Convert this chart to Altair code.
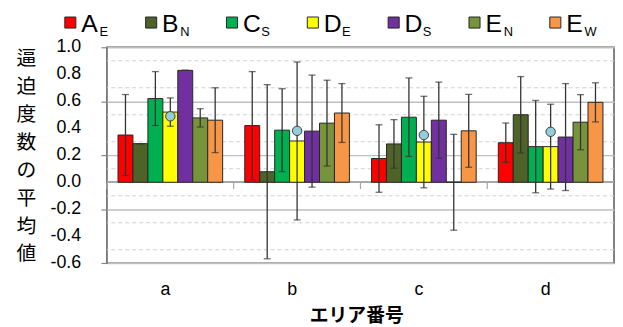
import altair as alt
import pandas as pd

groups = ["a", "b", "c", "d"]
series = ["A_E", "B_N", "C_S", "D_E", "D_S", "E_N", "E_W"]
colors = ["#ff0000", "#4f6228", "#00b050", "#ffff00", "#7030a0", "#77933c", "#f79646"]

# mean values per series, in group order a, b, c, d
mean_AE = [0.35, 0.42, 0.176, 0.293]
mean_BN = [0.286, 0.078, 0.284, 0.50]
mean_CS = [0.62, 0.386, 0.482, 0.264]
mean_DE = [0.52, 0.306, 0.298, 0.264]
mean_DS = [0.829, 0.379, 0.46, 0.335]
mean_EN = [0.477, 0.438, 0.0, 0.445]
mean_EW = [0.46, 0.513, 0.381, 0.592]

# error bar half-widths
err_AE = [0.30, 0.40, 0.25, 0.146]
err_BN = [0.0, 0.645, 0.18, 0.283]
err_CS = [0.20, 0.307, 0.291, 0.342]
err_DE = [0.105, 0.585, 0.339, 0.314]
err_DS = [0.0, 0.415, 0.282, 0.396]
err_EN = [0.068, 0.318, 0.355, 0.204]
err_EW = [0.24, 0.218, 0.27, 0.145]

# circle markers (on D_E bars)
circle_vals = [0.489, 0.381, 0.35, 0.374]

major_ticks = [-0.6, -0.4, -0.2, 0.0, 0.2, 0.4, 0.6, 0.8, 1.0]
minor_lines = [-0.5, -0.3, -0.1, 0.1, 0.3, 0.5, 0.7, 0.9]
y_title = list("逼迫度数の平均値")
x_title = "エリア番号"

means = [mean_AE, mean_BN, mean_CS, mean_DE, mean_DS, mean_EN, mean_EW]
errs = [err_AE, err_BN, err_CS, err_DE, err_DS, err_EN, err_EW]

rows = []
for s, mv, ev in zip(series, means, errs):
    for g, m, e in zip(groups, mv, ev):
        rows.append({"group": g, "series": s, "mean": m, "lo": m - e, "hi": m + e})
df = pd.DataFrame(rows)

df_circ = pd.DataFrame({"group": groups, "series": ["D_E"] * 4, "v": circle_vals})
df_minor = pd.DataFrame({"v": minor_lines})
df_major = pd.DataFrame({"v": major_ticks})
df_grp = pd.DataFrame({"group": groups})
df_leg = pd.DataFrame({
    "series": series,
    "main": [s.split("_")[0] for s in series],
    "sub": [s.split("_")[1] for s in series],
    "idx": list(range(len(series))),
})

color_scale = alt.Scale(domain=series, range=colors)
yscale = alt.Scale(domain=[-0.6, 1.0], nice=False, zero=False)

x_enc = alt.X(
    "group:N",
    scale=alt.Scale(domain=groups, paddingInner=0, paddingOuter=0),
    axis=alt.Axis(
        title=x_title, labelAngle=0, ticks=False, tickSize=0, domain=False, grid=False,
        labelPadding=32, labelBaseline="alphabetic", labelFontSize=18,
        labelFont="Liberation Sans", labelColor="black", labelOffset=-5,
        titleFontSize=19, titleFontWeight="bold", titleFont="Noto Sans CJK JP",
        titleColor="black", titleX=252, titleY=59, titleBaseline="alphabetic",
        titleAlign="center",
    ),
)
xo_enc = alt.XOffset("series:N", scale=alt.Scale(domain=series, paddingInner=0, paddingOuter=0.74))

y_axis = alt.Axis(
    values=major_ticks,
    title=y_title, titleAngle=0, titleX=-82, titleY=17.6,
)

minor = alt.Chart(df_minor).mark_rule(color="#d0d0d0", strokeDash=[4, 3], strokeWidth=1).encode(
    y=alt.Y("v:Q", scale=yscale)
)
ylabels = alt.Chart(df_major).transform_calculate(
    lab="replace(format(datum.v, '.1f'), '\u2212', '-')"
).mark_text(
    align="right", baseline="middle", fontSize=18, font="Liberation Sans", color="black"
).encode(y=alt.Y("v:Q"), x=alt.value(-26), text="lab:N")
zero = alt.Chart(df_grp).mark_rule(color="#a6a6a6", strokeWidth=1.5).encode(
    y=alt.datum(0, scale=yscale)
)
bticks = alt.Chart(df_grp).mark_rule(color="#a6a6a6", strokeWidth=1.2).encode(
    x=alt.X("group:N", bandPosition=0),
    y=alt.datum(0),
    y2=alt.datum(-0.05),
)
bars = alt.Chart(df).mark_bar(stroke="#262626", strokeWidth=1).encode(
    x=x_enc,
    xOffset=xo_enc,
    y=alt.Y("mean:Q", scale=yscale, axis=y_axis),
    color=alt.Color("series:N", scale=color_scale, legend=None),
)
rules = alt.Chart(df).mark_rule(color="#333333", strokeWidth=1.3).encode(
    x="group:N", xOffset="series:N", y="lo:Q", y2="hi:Q"
)
cap_lo = alt.Chart(df).mark_tick(color="#333333", size=7, thickness=1.3).encode(
    x="group:N", xOffset="series:N", y="lo:Q"
)
cap_hi = alt.Chart(df).mark_tick(color="#333333", size=7, thickness=1.3).encode(
    x="group:N", xOffset="series:N", y="hi:Q"
)
points = alt.Chart(df_circ).mark_point(
    filled=True, fill="#92cddc", stroke="#404040", strokeWidth=1, size=90, opacity=1
).encode(x="group:N", xOffset="series:N", y="v:Q")

main = alt.layer(minor, zero, bars, bticks, rules, cap_lo, cap_hi, points, ylabels)

leg_x = alt.X("idx:Q", scale=alt.Scale(domain=[0, 6], range=[-37, 453.2]), axis=None)
leg_sq = alt.Chart(df_leg).mark_square(size=125, stroke="#262626", strokeWidth=1, opacity=1).encode(
    x=leg_x, y=alt.value(-25), color=alt.Color("series:N", scale=color_scale, legend=None)
)
leg_main = alt.Chart(df_leg).mark_text(
    align="left", baseline="alphabetic", dx=11, fontSize=25, font="Liberation Sans", color="black"
).encode(x=leg_x, y=alt.value(-15.3), text="main:N")
leg_sub = alt.Chart(df_leg).mark_text(
    align="left", baseline="alphabetic", dx=29.5, fontSize=13, font="Liberation Sans", color="black"
).encode(x=leg_x, y=alt.value(-11), text="sub:N")
legend = alt.layer(leg_sq, leg_main, leg_sub)

chart = alt.layer(main, legend).resolve_scale(x="independent").properties(
    width=512.5, height=218.3,
    padding={"left": 100, "top": 38, "right": 1, "bottom": 62},
    autosize="none",
).configure_view(
    stroke="#595959", strokeWidth=1.5
).configure_axisY(
    labels=False,
    grid=True, gridColor="#bfbfbf", gridWidth=1.5,
    domain=False, tickColor="#868686", tickSize=6, tickWidth=1.2,
    titleFontSize=20, titleFont="Noto Sans CJK JP", titleFontWeight="normal",
    titleLineHeight=28.2, titleAlign="center", titleBaseline="alphabetic", titleColor="black",
)

chart.save("out.html", embed_options={"renderer": "svg", "actions": False})
